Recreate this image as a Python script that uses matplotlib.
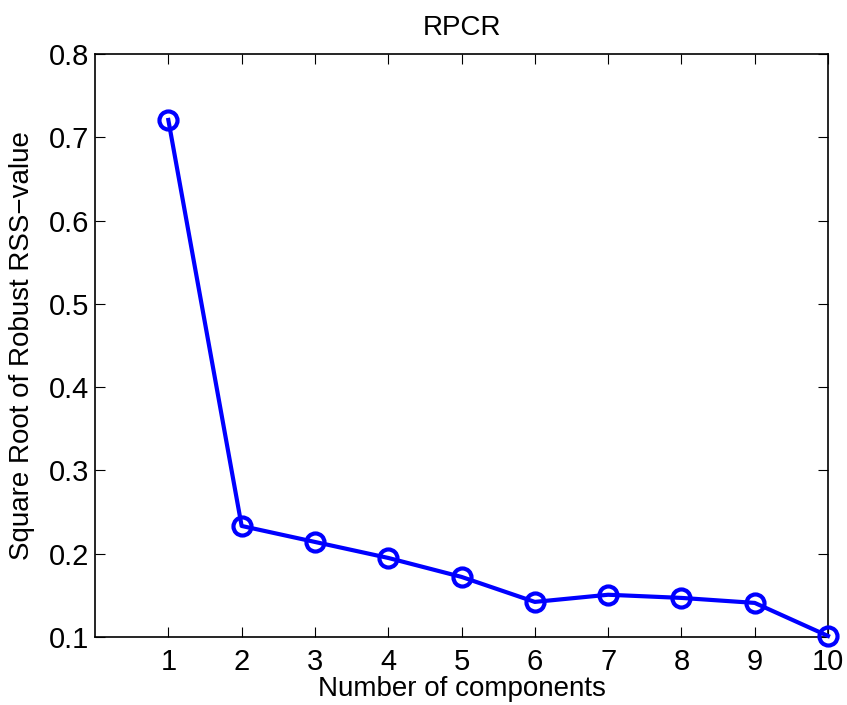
import numpy as np
import matplotlib.pyplot as plt

plt.rcParams['font.family'] = ['Liberation Sans', 'DejaVu Sans']

componentes = [1, 2, 3, 4, 5, 6, 7, 8, 9, 10]
rss = [0.7208, 0.2333, 0.2141, 0.1949, 0.1721, 0.1421, 0.1507, 0.1469, 0.1409, 0.1012]

fig = plt.figure(figsize=(8.47, 7.05), dpi=100)
ax = fig.add_axes([0.1122, 0.0965, 0.8654, 0.8269])

ax.plot(componentes, rss, 'o-', color='#0000ff', linewidth=3,
        markersize=13, markerfacecolor='none', markeredgewidth=3,
        clip_on=False, zorder=3)

ax.set_xlim(0, 10)
ax.set_ylim(0.1, 0.8)
ax.set_xticks(range(1, 11))
ax.set_yticks(np.arange(0.1, 0.81, 0.1))
ax.set_yticklabels(['0.1', '0.2', '0.3', '0.4', '0.5', '0.6', '0.7', '0.8'])
ax.tick_params(direction='in', length=7, width=0.8, labelsize=21,
               top=True, right=True)
ax.tick_params(axis='x', pad=8)
ax.tick_params(axis='y', pad=4)
for s in ax.spines.values():
    s.set_linewidth(1.2)

ax.set_title('RPCR', fontsize=20, pad=14)
ax.set_xlabel('Number of components', fontsize=20, labelpad=0)
ax.set_ylabel('Square Root of Robust RSS\u2212value', fontsize=20, labelpad=10)

fig.savefig('out.png', dpi=100)
